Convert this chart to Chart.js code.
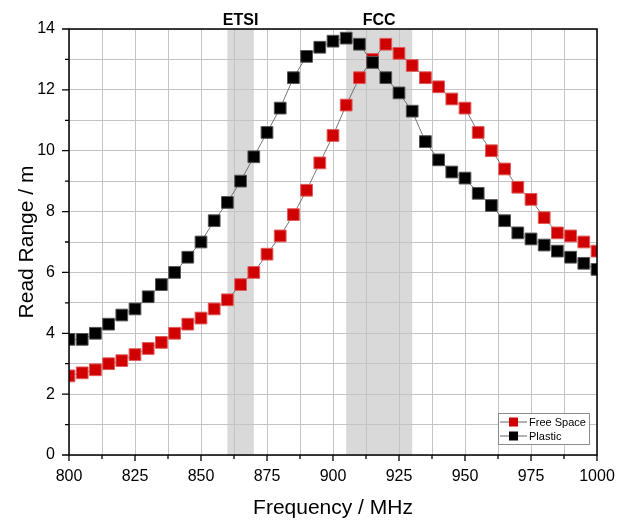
<!DOCTYPE html>
<html><head><meta charset="utf-8">
<script src="https://cdn.jsdelivr.net/npm/chart.js@4.4.0/dist/chart.umd.min.js"></script>
<style>html,body{margin:0;padding:0;background:#fff}#wrap{width:618px;height:521px;position:relative}</style>
</head><body><div id="wrap"><canvas id="c"></canvas></div>
<script>
const frequencies = [800,805,810,815,820,825,830,835,840,845,850,855,860,865,870,875,880,885,890,895,900,905,910,915,920,925,930,935,940,945,950,955,960,965,970,975,980,985,990,995,1000];
const freeSpace = [2.6,2.7,2.8,3.0,3.1,3.3,3.5,3.7,4.0,4.3,4.5,4.8,5.1,5.6,6.0,6.6,7.2,7.9,8.7,9.6,10.5,11.5,12.4,13.0,13.5,13.2,12.8,12.4,12.1,11.7,11.4,10.6,10.0,9.4,8.8,8.4,7.8,7.3,7.2,7.0,6.7];
const plastic = [3.8,3.8,4.0,4.3,4.6,4.8,5.2,5.6,6.0,6.5,7.0,7.7,8.3,9.0,9.8,10.6,11.4,12.4,13.1,13.4,13.6,13.7,13.5,12.9,12.4,11.9,11.3,10.3,9.7,9.3,9.1,8.6,8.2,7.7,7.3,7.1,6.9,6.7,6.5,6.3,6.1];
const seriesNames = ['Free Space','Plastic'];
const bandNames = ['ETSI','FCC'];
const bandStarts = [860,905];
const bandEnds = [870,930];
const xMin = 800, xMax = 1000, xStep = 12.5, xLabelStep = 25;
const yMin = 0, yMax = 14, yStep = 1, yLabelStep = 2;

const FONT = "'Liberation Sans', Arial, sans-serif";

const bandPlugin = {
  id: 'bands',
  beforeDraw(chart) {
    const {ctx, chartArea: a, scales: {x}} = chart;
    ctx.save();
    bandNames.forEach((n, i) => {
      const x0 = x.getPixelForValue(bandStarts[i]);
      const x1 = x.getPixelForValue(bandEnds[i]);
      ctx.fillStyle = '#d9d9d9';
      ctx.fillRect(x0, a.top, x1 - x0, a.bottom - a.top);
      ctx.fillStyle = '#000';
      ctx.font = 'bold 16px ' + FONT;
      ctx.textAlign = 'center';
      ctx.textBaseline = 'alphabetic';
      ctx.fillText(n, (x0 + x1) / 2, a.top - 4);
    });
    ctx.restore();
  }
};

const framePlugin = {
  id: 'frame',
  afterDraw(chart) {
    const {ctx, chartArea: a, scales: {x, y}} = chart;
    ctx.save();
    ctx.strokeStyle = '#000';
    ctx.lineWidth = 1.5;
    ctx.strokeRect(a.left, a.top, a.right - a.left, a.bottom - a.top);
    ctx.lineWidth = 1.3;
    ctx.beginPath();
    x.ticks.forEach(t => {
      const px = x.getPixelForValue(t.value);
      const len = (Math.abs(t.value % xLabelStep) < 1e-6) ? 6 : 4;
      ctx.moveTo(px, a.bottom);
      ctx.lineTo(px, a.bottom + len);
    });
    y.ticks.forEach(t => {
      const py = y.getPixelForValue(t.value);
      const len = (Math.abs(t.value % yLabelStep) < 1e-6) ? 7 : 4;
      ctx.moveTo(a.left, py);
      ctx.lineTo(a.left - len, py);
    });
    ctx.stroke();
    // legend
    const ds = chart.data.datasets;
    const bw = 91, bh = 31;
    const bx = a.right - 8 - bw, by = a.bottom - 11 - bh;
    ctx.fillStyle = '#fff';
    ctx.fillRect(bx, by, bw, bh);
    ctx.strokeStyle = '#8c8c8c';
    ctx.lineWidth = 1;
    ctx.strokeRect(bx + 0.5, by + 0.5, bw, bh);
    ctx.font = '11px ' + FONT;
    ctx.textAlign = 'left';
    ctx.textBaseline = 'middle';
    ds.forEach((d, i) => {
      const cy = by + 9 + i * 14;
      ctx.strokeStyle = '#666';
      ctx.lineWidth = 1;
      ctx.beginPath();
      ctx.moveTo(bx + 2, cy); ctx.lineTo(bx + 29, cy);
      ctx.stroke();
      ctx.fillStyle = d.pointBackgroundColor;
      ctx.fillRect(bx + 11, cy - 4.5, 9, 9);
      ctx.fillStyle = '#000';
      ctx.fillText(d.label, bx + 31, cy + 0.5);
    });
    ctx.restore();
  }
};

const toPoints = vals => frequencies.map((f, i) => ({x: f, y: vals[i]}));

new Chart(document.getElementById('c'), {
  type: 'line',
  data: {
    datasets: [
      {
        label: seriesNames[0], data: toPoints(freeSpace), order: 1,
        borderColor: '#555', borderWidth: 0.8,
        pointStyle: 'rect', pointRadius: 8.3, pointHoverRadius: 8.3,
        pointBackgroundColor: '#d00000', pointBorderColor: '#e05a5a', pointBorderWidth: 1,
        clip: 0
      },
      {
        label: seriesNames[1], data: toPoints(plastic), order: 0,
        borderColor: '#555', borderWidth: 0.8,
        pointStyle: 'rect', pointRadius: 8.3, pointHoverRadius: 8.3,
        pointBackgroundColor: '#000000', pointBorderColor: '#555', pointBorderWidth: 1,
        clip: 0
      }
    ]
  },
  options: {
    responsive: true, maintainAspectRatio: false, animation: false,
    layout: {padding: {top: 29, right: 21, left: 0, bottom: 0}},
    plugins: {legend: {display: false}, tooltip: {enabled: false}},
    scales: {
      x: {
        type: 'linear', min: xMin, max: xMax,
        afterFit: s => { s.height = 66; s.paddingLeft = 0; s.paddingRight = 0; },
        grid: {color: '#c4c4c4', lineWidth: 1, drawTicks: false},
        border: {display: false},
        ticks: {
          stepSize: xStep, autoSkip: false, maxRotation: 0, padding: 12,
          color: '#000', font: {family: FONT, size: 16},
          callback: v => (Math.abs(v % xLabelStep) < 1e-6 ? String(v) : '')
        },
        title: {display: true, text: 'Frequency / MHz', color: '#000', font: {family: FONT, size: 21}, padding: {top: 0, bottom: 0}}
      },
      y: {
        type: 'linear', min: yMin, max: yMax,
        afterFit: s => { s.width = 69; s.paddingTop = 0; s.paddingBottom = 0; },
        grid: {color: '#c4c4c4', lineWidth: 1, drawTicks: false},
        border: {display: false},
        ticks: {
          stepSize: yStep, autoSkip: false, padding: 14,
          color: '#000', font: {family: FONT, size: 16},
          callback: v => (Math.abs(v % yLabelStep) < 1e-6 ? String(v) : '')
        },
        title: {display: true, text: 'Read Range / m', color: '#000', font: {family: FONT, size: 21}, padding: {top: 15, bottom: 0}}
      }
    }
  },
  plugins: [bandPlugin, framePlugin]
});
</script></body></html>
